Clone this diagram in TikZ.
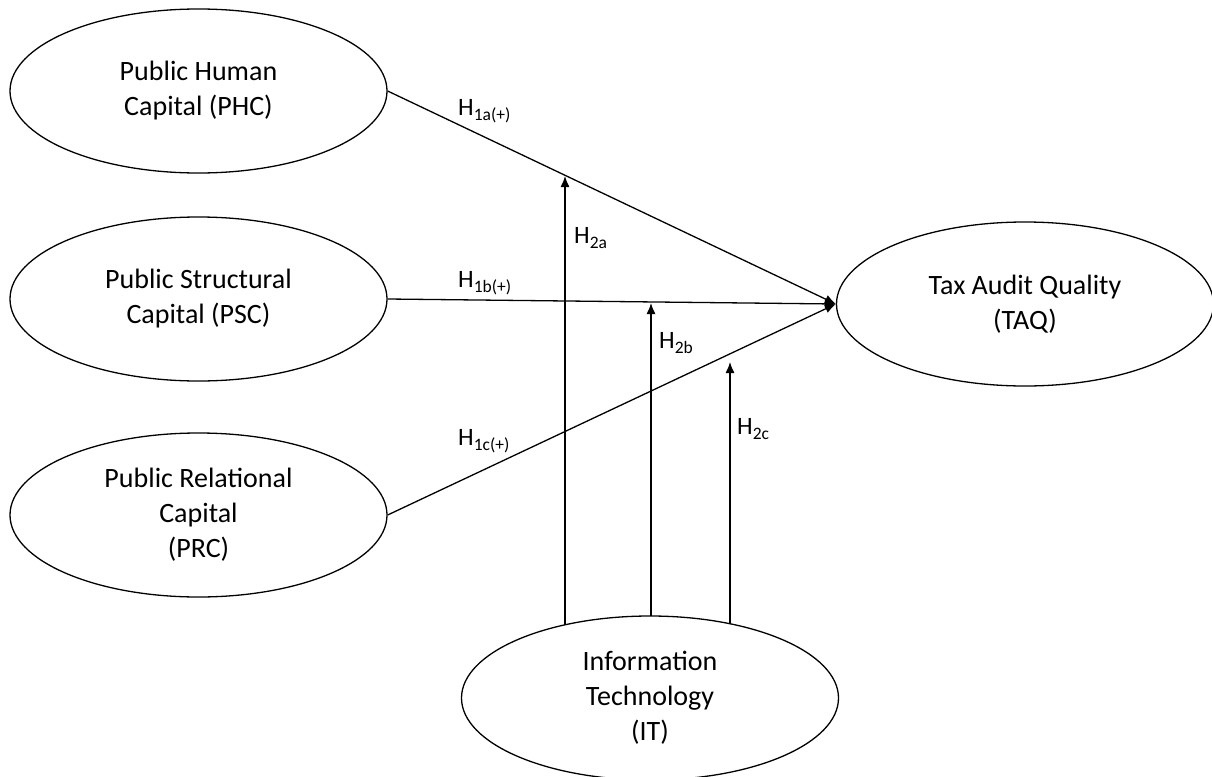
\documentclass[tikz,border=0pt]{standalone}
\usepackage{fontspec}
\setmainfont{Carlito}
\usetikzlibrary{shapes.geometric,arrows.meta,backgrounds}
\tikzset{
  latent/.style={ellipse, draw, line width=1.3pt, fill=white, minimum width=377pt, minimum height=164pt,
    inner sep=0pt, align=center, font=\fontsize{28}{35}\selectfont},
  arr/.style={line width=1.3pt, -{Latex[length=11pt,width=9pt]}},
  hyp/.style={anchor=base west, inner sep=0pt, font=\fontsize{25}{30}\selectfont}
}
\newcommand{\hlab}[2]{H\raisebox{-5pt}{\fontsize{17.5}{20}\selectfont #1#2}}
\begin{document}
\begin{tikzpicture}[x=1pt,y=-1pt]
\useasboundingbox (0,0) rectangle (1212,776);
\node[latent] (PHC) at (198.5,91) {Public Human\\Capital (PHC)};
\node[latent] (PSC) at (198.5,299) {Public Structural\\Capital (PSC)};
\node[latent] (PRC) at (198.5,515) {Public Relational\\Capital\\(PRC)};
\node[latent] (TAQ) at (1025,304) {Tax Audit Quality\\(TAQ)};
\coordinate (t1) at (565,176);
\coordinate (t2) at (651,303);
\coordinate (t3) at (730,362);
\node[latent] (IT) at (650,698) {Information\\Technology\\(IT)};
\begin{scope}[on background layer]
\draw[arr] (IT.center -| t1) -- (t1);
\draw[arr] (IT.center -| t2) -- (t2);
\draw[arr] (IT.center -| t3) -- (t3);
\end{scope}
\draw[arr] (PHC.east) -- (TAQ.west);
\draw[arr] (PSC.east) -- (TAQ.west);
\draw[arr] (PRC.east) -- (TAQ.west);
\node[hyp] (h1a) at (458,115) {\hlab{1a}{(+)}};
\node[hyp] (h1b) at (458,287) {\hlab{1b}{(+)}};
\node[hyp] (h1c) at (458,445) {\hlab{1c}{(+)}};
\node[hyp] (h2a) at (574,243) {\hlab{2a}{}};
\node[hyp] (h2b) at (659,348) {\hlab{2b}{}};
\node[hyp] (h2c) at (737,434) {\hlab{2c}{}};
\end{tikzpicture}
\end{document}
